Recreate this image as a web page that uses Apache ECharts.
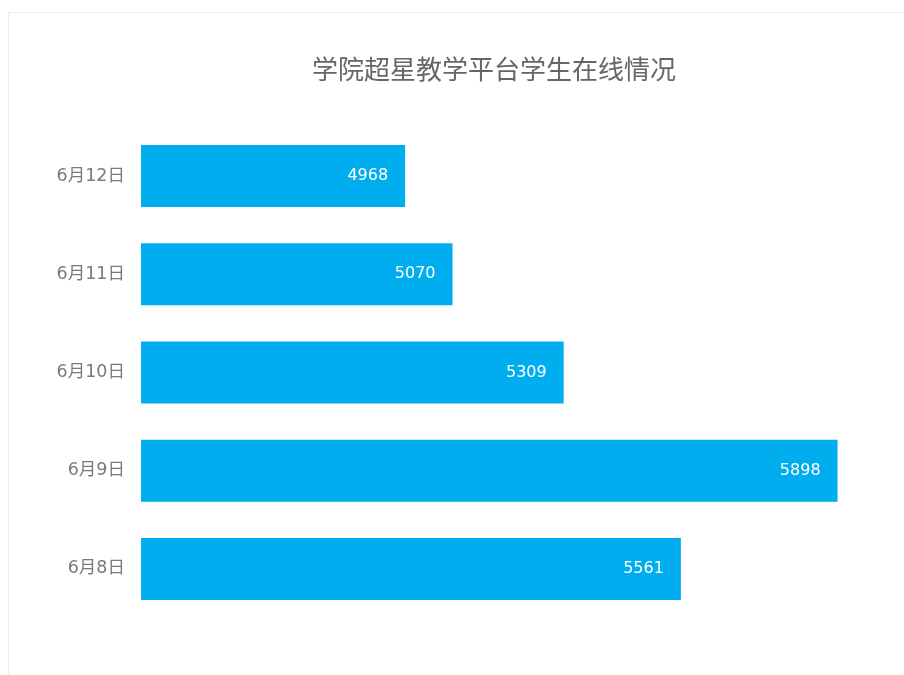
<!DOCTYPE html>
<html>
<head>
<meta charset="utf-8">
<script src="https://cdn.jsdelivr.net/npm/echarts@6/dist/echarts.min.js"></script>
<style>
html,body{margin:0;padding:0;background:#fff;}
#frame{position:absolute;left:8px;top:12px;width:900px;height:670px;border-left:1px solid #eeeeee;border-top:1px solid #eeeeee;}
#main{position:absolute;left:0;top:0;width:904px;height:675px;}
</style>
</head>
<body>
<div id="frame"></div>
<div id="main"></div>
<script>
var titleText = '学院超星教学平台学生在线情况';
var categories = ['6月8日', '6月9日', '6月10日', '6月11日', '6月12日'];
var values = [5561, 5898, 5309, 5070, 4968];

var chart = echarts.init(document.getElementById('main'));
chart.setOption({
  animation: false,
  title: {
    text: titleText,
    left: 307,
    top: 51,
    textStyle: {
      color: '#666',
      fontSize: 26,
      fontWeight: 'normal',
      fontFamily: 'Noto Sans CJK SC'
    }
  },
  grid: { left: 141, right: 19, top: 127, bottom: 57 },
  xAxis: {
    type: 'value',
    min: 4400,
    max: 6000,
    show: false
  },
  yAxis: {
    type: 'category',
    data: categories,
    axisLine: { show: false },
    axisTick: { show: false },
    splitLine: { show: false },
    axisLabel: {
      margin: 16,
      color: '#7a7a7a',
      fontSize: 17.5,
      fontFamily: 'DejaVu Sans, Noto Sans CJK SC'
    }
  },
  series: [{
    type: 'bar',
    data: values,
    barWidth: 62,
    itemStyle: { color: '#00AEEF' },
    label: {
      show: true,
      position: 'insideRight',
      distance: 17,
      color: '#fff',
      fontSize: 16,
      fontFamily: 'DejaVu Sans'
    }
  }]
});
</script>
</body>
</html>
